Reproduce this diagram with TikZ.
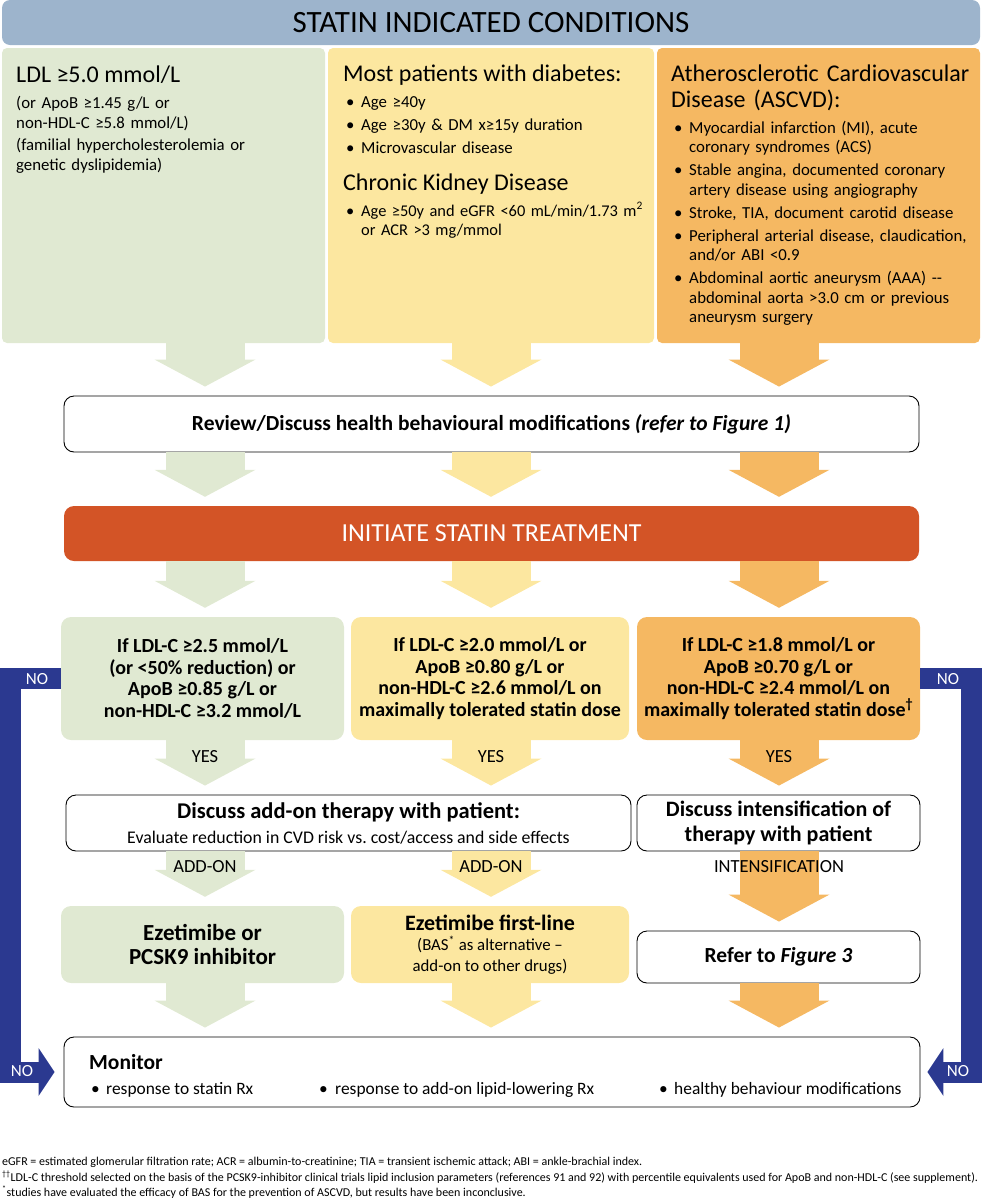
\documentclass[tikz,border=0pt]{standalone}
\usepackage{fontspec}
\setmainfont{Carlito}
\usetikzlibrary{arrows.meta, positioning, calc}

\definecolor{hdrblue}{HTML}{9DB4CC}
\definecolor{grn}{HTML}{E0E9D2}
\definecolor{ylw}{HTML}{FCE7A0}
\definecolor{org}{HTML}{F5B862}
\definecolor{rust}{HTML}{D35426}
\definecolor{navy}{HTML}{2B3990}

\newcommand{\fsz}[2]{\fontsize{#1}{#2}\selectfont}
\newcommand{\itm}[1]{\hangindent=15pt\hangafter=1\noindent\makebox[15pt][l]{\textbullet}#1\par}
\newcommand{\igap}{\vspace{3.5pt}}

\begin{document}
\begin{tikzpicture}[x=1pt, y=-1pt,
    col/.style={rounded corners=5pt, inner sep=0pt},
    hdr/.style={fill=hdrblue, rounded corners=8pt, inner sep=0pt, font=\fsz{31}{34}},
    txt/.style={inner sep=0pt, anchor=base west, align=left},
    head/.style={txt, font=\fsz{24}{26}},
    body/.style={txt, text width=330pt, font=\fsz{16.8}{19.5}},
    box/.style={rounded corners=10pt, align=center, inner sep=0pt},
    wbox/.style={box, draw=black, line width=0.9pt, fill=white},
    qbox/.style={box, font=\fsz{20}{21.5}\bfseries},
    fat/.style={draw=#1, line width=79pt,
      -{Triangle[width=101pt,length=27pt,line width=0pt]}, shorten >=9pt},
    noarr/.style={draw=navy, line width=21pt, line join=miter,
      -{Triangle[width=48pt,length=16pt,line width=0pt]}},
    lbl/.style={inner sep=0pt, font=\fsz{18.5}{20}},
    nolbl/.style={inner sep=0pt, font=\fsz{17}{20}, text=white},
    note/.style={txt, font=\fsz{12}{15}}]
\useasboundingbox (0,0) rectangle (982,1200);

% header and the three condition columns
\node[hdr, minimum width=978pt, minimum height=45pt] (hdr) at (491,22.5) {STATIN INDICATED CONDITIONS};
\node[col, fill=grn, minimum width=323pt, minimum height=295pt] (c1) at (163.5,195.5) {};
\node[col, fill=ylw, minimum width=326pt, minimum height=295pt] (c2) at (491,195.5) {};
\node[col, fill=org, minimum width=323pt, minimum height=295pt] (c3) at (818.5,195.5) {};

\node[head] (h1) at (16,82) {LDL ≥5.0 mmol/L};
\node[body, font=\fsz{16.8}{20}] (b1) at (16,108)
  {(or ApoB ≥1.45 g/L or\\non-HDL-C ≥5.8 mmol/L)\par\vspace{2pt}(familial hypercholesterolemia or\\genetic dyslipidemia)};

\node[head] (h2) at (343,81) {Most patients with diabetes:};
\node[body] (l2) at (346,107)
  {\itm{Age ≥40y}\igap\itm{Age ≥30y \& DM x≥15y duration}\igap\itm{Microvascular disease}};
\node[head] (h3) at (343,190) {Chronic Kidney Disease};
\node[body, font=\fsz{16.4}{19.5}] (l3) at (346,216)
  {\itm{Age ≥50y and eGFR <60 mL/min/1.73 m\textsuperscript{2}\newline or ACR >3 mg/mmol}};

\node[head, text width=330pt] (h4) at (671,81) {Atherosclerotic Cardiovascular\\Disease (ASCVD):};
\node[body] (l4) at (674,133)
  {\itm{Myocardial infarction (MI), acute\newline coronary syndromes (ACS)}\igap
   \itm{Stable angina, documented coronary\newline artery disease using angiography}\igap
   \itm{Stroke, TIA, document carotid disease}\igap
   \itm{Peripheral arterial disease, claudication,\newline and/or ABI <0.9}\igap
   \itm{Abdominal aortic aneurysm (AAA) -{}-\newline abdominal aorta >3.0 cm or previous\newline aneurysm surgery}};

% treatment steps
\node[wbox, minimum width=855pt, minimum height=56pt, font=\fsz{21.5}{25}\bfseries] (rev) at (491.5,424)
  {Review/Discuss health behavioural modifications \textit{(refer to Figure 1)}};
\node[box, fill=rust, minimum width=855pt, minimum height=55pt, text=white, font=\fsz{26}{28}] (ini) at (491.5,533.5)
  {INITIATE STATIN TREATMENT};

\node[qbox, fill=grn, minimum width=283pt, minimum height=123pt] (q1) at (202.5,678.5)
  {If LDL-C ≥2.5 mmol/L\\(or <50\% reduction) or\\ApoB ≥0.85 g/L or\\non-HDL-C ≥3.2 mmol/L};
\node[qbox, fill=ylw, minimum width=278pt, minimum height=123pt] (q2) at (490,678.5)
  {If LDL-C ≥2.0 mmol/L or\\ApoB ≥0.80 g/L or\\non-HDL-C ≥2.6 mmol/L on\\maximally tolerated statin dose};
\node[qbox, fill=org, minimum width=283pt, minimum height=123pt] (q3) at (778.5,678.5)
  {If LDL-C ≥1.8 mmol/L or\\ApoB ≥0.70 g/L or\\non-HDL-C ≥2.4 mmol/L on\\maximally tolerated statin dose\textsuperscript{†}};

\node[wbox, minimum width=565pt, minimum height=56pt, font=\fsz{17.8}{25}] (dsc1) at (348.5,823)
  {{\fsz{22.5}{25}\bfseries Discuss add-on therapy with patient:}\\Evaluate reduction in CVD risk vs.\ cost/access and side effects};
\node[wbox, minimum width=283pt, minimum height=56pt, font=\fsz{22}{25}\bfseries] (dsc2) at (778.5,823)
  {Discuss intensification of\\therapy with patient};

\node[box, fill=grn, minimum width=283pt, minimum height=77pt, font=\fsz{23}{24}\bfseries] (eze1) at (202.5,944.5)
  {Ezetimibe or\\PCSK9 inhibitor};
\node[box, fill=ylw, minimum width=278pt, minimum height=77pt, font=\fsz{16.8}{20.5}] (eze2) at (490,944.5)
  {{\fsz{22}{24}\bfseries Ezetimibe first-line}\\(BAS\textsuperscript{*} as alternative –\\add-on to other drugs)};
\node[wbox, minimum width=283pt, minimum height=52pt, font=\fsz{21.5}{24}\bfseries] (ref) at (778.5,957)
  {Refer to \textit{Figure 3}};

\node[wbox, minimum width=856pt, minimum height=70pt] (mon) at (492,1072) {};
\node[txt, font=\fsz{21.5}{25}\bfseries] (monh) at (89,1069) {Monitor};
\node[txt, font=\fsz{17.4}{20}] (m1) at (91,1094) {\makebox[15pt][l]{\textbullet}response to statin Rx};
\node[txt, font=\fsz{17.4}{20}] (m2) at (319,1094) {\makebox[16pt][l]{\textbullet}response to add-on lipid-lowering Rx};
\node[txt, font=\fsz{17.4}{20}] (m3) at (659,1094) {\makebox[15pt][l]{\textbullet}healthy behaviour modifications};

% block arrows down each column
\coordinate (gx) at (205,0);
\coordinate (yx) at (491,0);
\coordinate (ox) at (779,0);
\foreach \a/\b/\ax/\cl in {c1/rev/gx/grn, c2/rev/yx/ylw, c3/rev/ox/org,
    rev/ini/gx/grn, rev/ini/yx/ylw, rev/ini/ox/org,
    ini/q1/gx/grn, ini/q2/yx/ylw, ini/q3/ox/org,
    q1/dsc1/gx/grn, q2/dsc1/yx/ylw, q3/dsc2/ox/org,
    dsc1/eze1/gx/grn, dsc1/eze2/yx/ylw, dsc2/ref/ox/org,
    eze1/mon/gx/grn, eze2/mon/yx/ylw, ref/mon/ox/org}
  \draw[fat=\cl] (\a.south -| \ax) -- (\b.north -| \ax);

\node[lbl] (yes1) at (205,757) {YES};
\node[lbl] (yes2) at (491,757) {YES};
\node[lbl] (yes3) at (779,757) {YES};
\node[lbl] (add1) at (205,867) {ADD-ON};
\node[lbl] (add2) at (491,867) {ADD-ON};
\node[lbl] (int3) at (779,867) {INTENSIFICATION};

% NO loops to monitoring
\draw[noarr, shorten >=9pt] (q1.west) -- (10.5,678.5) |- (mon.west);
\draw[noarr, shorten >=7pt] (q3.east) -- (971.5,678.5) |- (mon.east);
\node[nolbl] (no1) at (37,679) {NO};
\node[nolbl] (no2) at (22,1071) {NO};
\node[nolbl] (no3) at (948,679) {NO};
\node[nolbl] (no4) at (958,1071) {NO};

% footnotes
\node[note] (f1) at (2,1165)
  {eGFR = estimated glomerular filtration rate; ACR = albumin-to-creatinine; TIA = transient ischemic attack; ABI = ankle-brachial index.};
\node[note] (f2) at (2,1181)
  {\textsuperscript{††}LDL-C threshold selected on the basis of the PCSK9-inhibitor clinical trials lipid inclusion parameters (references 91 and 92) with percentile equivalents used for ApoB and non-HDL-C (see supplement).};
\node[note] (f3) at (2,1196)
  {\textsuperscript{*}studies have evaluated the efficacy of BAS for the prevention of ASCVD, but results have been inconclusive.};
\end{tikzpicture}
\end{document}
